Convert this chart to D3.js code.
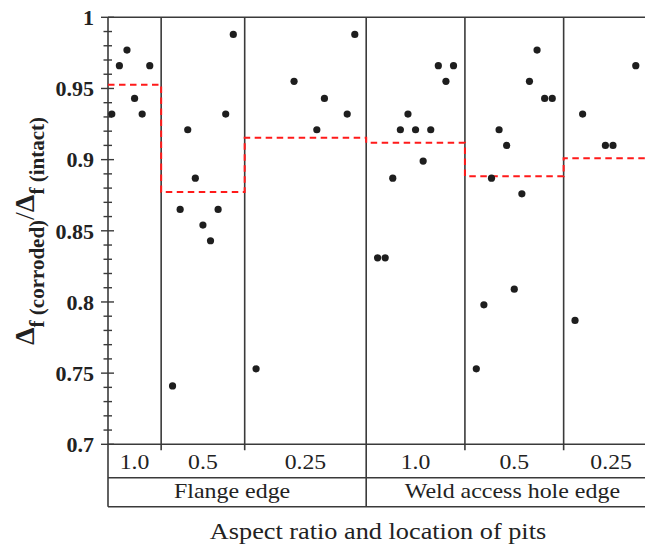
<!DOCTYPE html>
<html><head><meta charset="utf-8">
<script src="https://cdn.jsdelivr.net/npm/d3@7"></script>
<style>html,body{margin:0;padding:0;background:#fff;} text{font-family:"Liberation Serif",serif;}</style>
</head><body>
<svg id="chart" width="645" height="547"></svg>
<script>
// ---- data ----
const aspectRatios = ["1.0", "0.5", "0.25", "1.0", "0.5", "0.25"];
const locations = ["Flange edge", "Weld access hole edge"];
const groupBounds = [-0.5, 6.5, 17.5, 33.5, 46.5, 59.5, 72];   // specimen-number boundaries of each group
const specimen = [0,1,2,3,4,5,
  8,9,10,11,12,13,14,15,16,
  19,24,27,28,31,32,
  35,36,37,38,39,40,41,42,43,44,45,
  48,49,50,51,52,53,54,55,56,57,58,
  61,62,65,66,69];
const ratio = [0.932,0.966,0.977,0.943,0.932,0.966,
  0.741,0.865,0.921,0.887,0.854,0.843,0.865,0.932,0.988,
  0.753,0.955,0.921,0.943,0.932,0.988,
  0.831,0.831,0.887,0.921,0.932,0.921,0.899,0.921,0.966,0.955,0.966,
  0.753,0.798,0.887,0.921,0.910,0.809,0.876,0.955,0.977,0.943,0.943,
  0.787,0.932,0.910,0.910,0.966];
const yTicks = [0.7, 0.75, 0.8, 0.85, 0.9, 0.95, 1];
const yTickLabels = ["0.7", "0.75", "0.8", "0.85", "0.9", "0.95", "1"];
const xTitle = "Aspect ratio and location of pits";

// ---- layout ----
const svg = d3.select("#chart");
const mLeft = 108, mTop = 17.3, mBottom = 444.3;
const x = d3.scaleLinear().domain([-0.5, 72]).range([mLeft, mLeft + 72.5 * 7.594]);
const y = d3.scaleLinear().domain([0.7, 1]).range([mBottom, mTop]);
const row1 = 477.7, row2 = 506.7;
const lineColor = "#3a3a3a";

const pts = specimen.map((s, i) => ({s, v: ratio[i], g: d3.bisect(groupBounds, s) - 1}));
const means = aspectRatios.map((_, g) => d3.mean(pts.filter(p => p.g === g), p => p.v));

const xR = x(groupBounds[groupBounds.length - 1]);

// frame lines
const g0 = svg.append("g").attr("stroke", lineColor).attr("stroke-width", 1.6).attr("fill", "none");
[mTop, mBottom, row1, row2].forEach(yy =>
  g0.append("line").attr("x1", mLeft).attr("x2", xR).attr("y1", yy).attr("y2", yy));
g0.append("line").attr("x1", mLeft).attr("x2", mLeft).attr("y1", mTop).attr("y2", row2);

// group dividers
groupBounds.slice(1, -1).forEach((b, i) => {
  const full = (i + 1) === 3;
  g0.append("line").attr("x1", x(b)).attr("x2", x(b))
    .attr("y1", mTop).attr("y2", full ? row2 : mBottom + 6);
});

// y axis ticks (major + minor)
const minor = d3.range(70, 101).map(d => d / 100);
const gt = svg.append("g").attr("stroke", lineColor).attr("stroke-width", 1.4);
minor.forEach(v => {
  const major = Math.abs(v * 20 - Math.round(v * 20)) < 1e-6;
  gt.append("line").attr("x1", mLeft - (major ? 7 : 4.5)).attr("x2", mLeft + (major ? 6 : 4))
    .attr("y1", y(v)).attr("y2", y(v));
});
svg.append("g").selectAll("text").data(yTicks).join("text")
  .attr("x", 94).attr("y", d => y(d)).attr("dy", "0.35em")
  .attr("text-anchor", "end").style("font-weight", "bold")
  .style("font-size", "22px").attr("fill", "#222")
  .text((d, i) => yTickLabels[i]);

// group mean step line
const stepData = means.map((m, i) => [groupBounds[i], m]).concat([[groupBounds[6], means[5]]]);
svg.append("path").datum(stepData)
  .attr("d", d3.line().x(d => x(d[0])).y(d => y(d[1])).curve(d3.curveStepAfter))
  .attr("fill", "none").attr("stroke", "#ff1a1a").attr("stroke-width", 2)
  .attr("stroke-dasharray", "6.5,4.5");

// points
svg.append("g").selectAll("circle").data(pts).join("circle")
  .attr("cx", d => x(d.s)).attr("cy", d => y(d.v)).attr("r", 3.6).attr("fill", "#1e1e1e");

// category labels
svg.append("g").selectAll("text").data(aspectRatios).join("text")
  .attr("transform", (d, i) => `translate(${(x(groupBounds[i]) + x(groupBounds[i + 1])) / 2},${(mBottom + row1) / 2 + 8.3}) scale(1.13,1)`)
  .attr("text-anchor", "middle").style("font-size", "21px").attr("fill", "#222")
  .text(d => d);
const locBounds = [[groupBounds[0], groupBounds[3]], [groupBounds[3], groupBounds[6]]];
svg.append("g").selectAll("text").data(locations).join("text")
  .attr("transform", (d, i) => `translate(${(x(locBounds[i][0]) + x(locBounds[i][1])) / 2 - (i === 0 ? 5 : 0)},${(row1 + row2) / 2 + 5.5}) scale(1.14,1)`)
  .attr("text-anchor", "middle").style("font-size", "21px").attr("fill", "#222")
  .text(d => d);

// x title
svg.append("text").attr("transform", "translate(378,539) scale(1.095,1)").attr("text-anchor", "middle")
  .style("font-size", "24px").attr("fill", "#222").text(xTitle);

// y title
const yt = svg.append("text").attr("transform", "translate(34,231) rotate(-90)")
  .attr("text-anchor", "middle").style("font-weight", "bold").attr("fill", "#222");
yt.append("tspan").style("font-size", "28px").text("Δ");
yt.append("tspan").style("font-size", "21px").attr("dy", 10).text("f (corroded)");
yt.append("tspan").style("font-size", "28px").style("font-weight", "normal").attr("dy", -10).text("/");
yt.append("tspan").style("font-size", "28px").text("Δ");
yt.append("tspan").style("font-size", "21px").attr("dy", 10).text("f (intact)");
</script>
</body></html>
